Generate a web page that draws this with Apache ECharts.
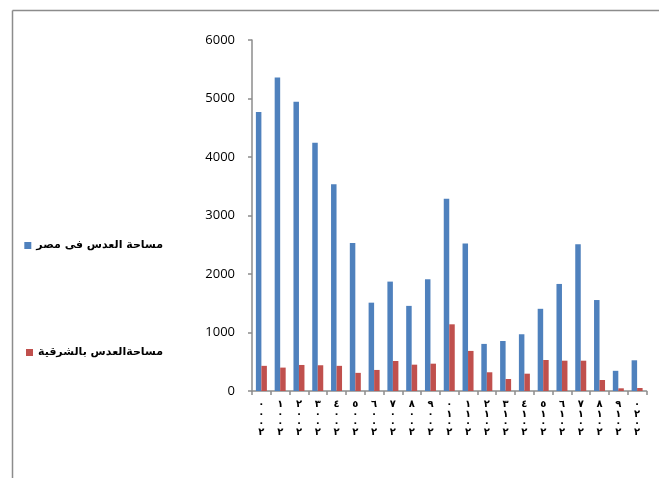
<!DOCTYPE html>
<html><head><meta charset="utf-8">
<script src="https://cdn.jsdelivr.net/npm/echarts@6/dist/echarts.min.js"></script>
<style>html,body{margin:0;padding:0;background:#fff}#c{width:659px;height:478px}</style>
</head><body><div id="c"></div>
<script>
const years = ['٢٠٠٠','٢٠٠١','٢٠٠٢','٢٠٠٣','٢٠٠٤','٢٠٠٥','٢٠٠٦','٢٠٠٧','٢٠٠٨','٢٠٠٩','٢٠١٠','٢٠١١','٢٠١٢','٢٠١٣','٢٠١٤','٢٠١٥','٢٠١٦','٢٠١٧','٢٠١٨','٢٠١٩','٢٠٢٠'];
const egyptName = 'مساحة العدس فى مصر';
const sharqiaName = 'مساحةالعدس بالشرقية';
const egyptArea = [4770,5360,4945,4245,3535,2530,1510,1870,1455,1910,3285,2520,805,855,970,1405,1830,2510,1555,345,525];
const sharqiaArea = [430,400,445,440,430,310,360,513,450,467,1140,685,320,205,296,530,518,518,188,46,51];
const yTicks = {min:0, max:6000, interval:1000};

const chart = echarts.init(document.getElementById('c'), null, {renderer:'canvas'});
const legendText = {fontFamily:'DejaVu Sans, Arial, sans-serif', fontSize:11, fontWeight:'bold', color:'#000'};
chart.setOption({
  animation:false,
  backgroundColor:'#fff',
  graphic:[
    {type:'line', shape:{x1:12.5,y1:10.5,x2:659,y2:10.5}, style:{stroke:'#8c8c8c', lineWidth:1.5}},
    {type:'line', shape:{x1:12.5,y1:10.5,x2:12.5,y2:478}, style:{stroke:'#8c8c8c', lineWidth:1.5}}
  ],
  legend:[
    {data:[egyptName], right:496, top:240, icon:'rect', itemWidth:7, itemHeight:7, itemGap:5, selectedMode:false, textStyle:legendText, padding:0},
    {data:[sharqiaName], right:496, top:347, icon:'rect', itemWidth:7, itemHeight:7, itemGap:5, selectedMode:false, textStyle:legendText, padding:0}
  ],
  grid:{left:252, right:12.5, top:40, bottom:87, containLabel:false},
  xAxis:{
    type:'category', data:years,
    axisLine:{lineStyle:{color:'#8c8c8c', width:1.5}},
    axisTick:{show:true, length:4, alignWithLabel:false, lineStyle:{color:'#8c8c8c', width:1.5}},
    axisLabel:{interval:0, margin:9, color:'#000', fontSize:10, fontWeight:'bold', lineHeight:9.3,
      fontFamily:'DejaVu Sans, sans-serif',
      formatter:v=>v.split('').reverse().join('\n')}
  },
  yAxis:{
    type:'value', min:yTicks.min, max:yTicks.max, interval:yTicks.interval,
    splitLine:{show:false},
    axisLine:{show:true, lineStyle:{color:'#8c8c8c', width:1.5}},
    axisTick:{show:true, length:4, lineStyle:{color:'#8c8c8c', width:1.5}},
    axisLabel:{color:'#000', fontSize:13, margin:17, fontFamily:'Open Sans, Noto Sans, sans-serif',
      formatter:v=>String(v)}
  },
  series:[
    {name:egyptName, type:'bar', data:egyptArea, barWidth:5.5, barGap:'0%', itemStyle:{color:'#4F81BD'}},
    {name:sharqiaName, type:'bar', data:sharqiaArea, barWidth:5.5, barGap:'0%', itemStyle:{color:'#C0504D'}}
  ]
});
</script></body></html>
